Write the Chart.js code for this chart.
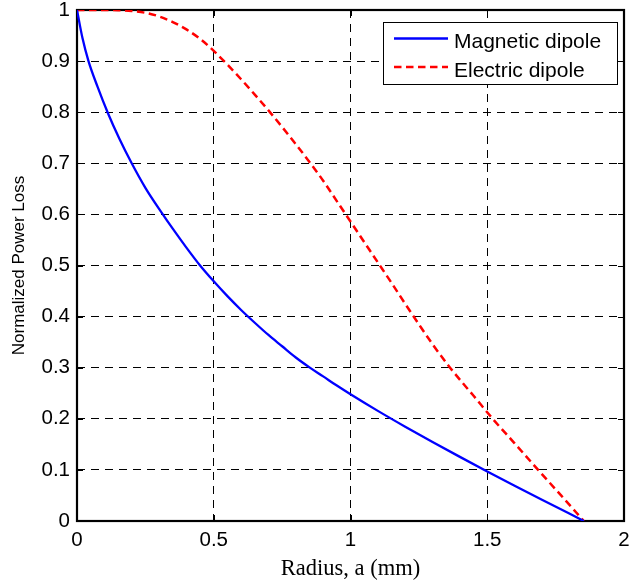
<!DOCTYPE html>
<html>
<head>
<meta charset="utf-8">
<script src="https://cdn.jsdelivr.net/npm/chart.js@4/dist/chart.umd.min.js"></script>
<style>
  html, body { margin: 0; padding: 0; background: #ffffff; }
  canvas { display: block; }
</style>
</head>
<body>
<canvas id="c" width="629" height="586"></canvas>
<script>
// ---- Data ----
const seriesNames = ['Magnetic dipole', 'Electric dipole'];

const magX = [0, 0.02, 0.042, 0.075, 0.114, 0.155, 0.2, 0.25, 0.31, 0.35, 0.4, 0.45, 0.5, 0.55, 0.6, 0.65, 0.7, 0.75, 0.8, 0.85, 0.9, 0.95, 1.0, 1.1, 1.2, 1.3, 1.4, 1.5, 1.6, 1.7, 1.8, 1.853];
const magY = [1, 0.945, 0.9, 0.85, 0.797, 0.748, 0.7, 0.652, 0.603, 0.572, 0.535, 0.5, 0.469, 0.44, 0.413, 0.388, 0.364, 0.342, 0.32, 0.3007, 0.283, 0.265, 0.248, 0.2155, 0.1845, 0.1545, 0.1255, 0.097, 0.069, 0.0415, 0.0145, 0];

const elecX = [0, 0.1, 0.15, 0.2, 0.25, 0.3, 0.35, 0.4, 0.45, 0.5, 0.55, 0.6, 0.65, 0.7, 0.75, 0.8, 0.85, 0.9, 0.95, 1.0, 1.05, 1.1, 1.15, 1.2, 1.25, 1.3, 1.364, 1.45, 1.52, 1.6, 1.686, 1.77, 1.853];
const elecY = [1, 1, 0.9995, 0.998, 0.9945, 0.9875, 0.9765, 0.962, 0.9435, 0.92, 0.893, 0.8645, 0.8345, 0.8035, 0.771, 0.7375, 0.7025, 0.666, 0.626, 0.586, 0.546, 0.506, 0.466, 0.425, 0.385, 0.346, 0.3, 0.245, 0.2, 0.152, 0.1, 0.05, 0];

const xTickLabels = ['0', '0.5', '1', '1.5', '2'];
const yTickLabels = ['0', '0.1', '0.2', '0.3', '0.4', '0.5', '0.6', '0.7', '0.8', '0.9', '1'];

const xTitle = 'Radius, a (mm)';
const yTitle = 'Normalized Power Loss';

// ---- helpers ----
const toPoints = (xs, ys) => xs.map((x, i) => ({ x: x, y: ys[i] }));
const SANS = '"Liberation Sans", Arial, Helvetica, sans-serif';
const SERIF = '"Liberation Serif", "Times New Roman", Times, serif';

const framePlugin = {
  id: 'frame',
  beforeDatasetsDraw(chart) {
    const { ctx, chartArea: a, scales: { x, y } } = chart;
    ctx.save();
    ctx.strokeStyle = '#000';
    ctx.lineWidth = 1;
    ctx.setLineDash([]);
    ctx.beginPath();
    const tl = 6;
    y.ticks.forEach(t => {
      const p = Math.round(y.getPixelForValue(t.value)) + 0.5;
      ctx.moveTo(a.left, p); ctx.lineTo(a.left + tl, p);
      ctx.moveTo(a.right, p); ctx.lineTo(a.right - tl, p);
    });
    x.ticks.forEach(t => {
      const p = Math.round(x.getPixelForValue(t.value)) + 0.5;
      ctx.moveTo(p, a.bottom); ctx.lineTo(p, a.bottom - tl);
      ctx.moveTo(p, a.top); ctx.lineTo(p, a.top + tl);
    });
    ctx.stroke();
    ctx.lineWidth = 2.2;
    ctx.strokeRect(a.left, a.top, a.right - a.left, a.bottom - a.top);
    ctx.restore();
  },
  afterDatasetsDraw(chart) {
    const { ctx } = chart;
    const box = { l: 383.5, t: 22.5, r: 617.5, b: 84.5 };
    ctx.save();
    ctx.fillStyle = '#fff';
    ctx.fillRect(box.l, box.t, box.r - box.l, box.b - box.t);
    ctx.strokeStyle = '#000';
    ctx.lineWidth = 1;
    ctx.setLineDash([]);
    ctx.strokeRect(box.l, box.t, box.r - box.l, box.b - box.t);
    const rowsLine = [38.5, 67];
    const rowsText = [48.3, 76.5];
    chart.data.datasets.forEach((ds, i) => {
      ctx.strokeStyle = ds.borderColor;
      ctx.lineWidth = ds.borderWidth;
      ctx.setLineDash(ds.borderDash || []);
      ctx.beginPath();
      ctx.moveTo(394, rowsLine[i]);
      ctx.lineTo(448, rowsLine[i]);
      ctx.stroke();
      ctx.setLineDash([]);
      ctx.fillStyle = '#000';
      ctx.font = '21px ' + SANS;
      ctx.textAlign = 'left';
      ctx.textBaseline = 'alphabetic';
      ctx.fillText(ds.label, 454, rowsText[i]);
    });
    ctx.restore();
  }
};

new Chart(document.getElementById('c'), {
  type: 'line',
  data: {
    datasets: [
      {
        label: seriesNames[0],
        data: toPoints(magX, magY),
        borderColor: '#0000ff',
        borderWidth: 2.3,
        pointRadius: 0,
        cubicInterpolationMode: 'monotone',
        fill: false
      },
      {
        label: seriesNames[1],
        data: toPoints(elecX, elecY),
        borderColor: '#ff0000',
        borderWidth: 2.5,
        borderDash: [7.5, 4.5],
        pointRadius: 0,
        cubicInterpolationMode: 'monotone',
        fill: false
      }
    ]
  },
  options: {
    responsive: false,
    devicePixelRatio: 1,
    animation: false,
    events: [],
    layout: { padding: { left: 0, right: 5, top: 10, bottom: 0 } },
    plugins: {
      legend: { display: false },
      tooltip: { enabled: false },
      title: { display: false }
    },
    scales: {
      x: {
        type: 'linear',
        min: 0,
        max: 2,
        afterFit(scale) {
          scale.height = 65;
          scale.paddingLeft = 0; scale.paddingRight = 0;
          scale.paddingTop = 0; scale.paddingBottom = 0;
        },
        ticks: {
          stepSize: 0.5,
          color: '#000',
          padding: 9,
          maxRotation: 0,
          autoSkip: false,
          font: { family: SANS, size: 20.5, lineHeight: 1 },
          callback: (v, i) => xTickLabels[i]
        },
        grid: {
          color: '#000',
          lineWidth: 1,
          drawTicks: false
        },
        border: { display: false, dash: [8, 6] },
        title: {
          display: true,
          text: xTitle,
          color: '#000',
          font: { family: SERIF, size: 22.5, lineHeight: 1.2 },
          padding: { top: 0, bottom: 3 }
        }
      },
      y: {
        type: 'linear',
        min: 0,
        max: 1,
        afterFit(scale) {
          scale.width = 77;
          scale.paddingLeft = 0; scale.paddingRight = 0;
          scale.paddingTop = 0; scale.paddingBottom = 0;
        },
        ticks: {
          stepSize: 0.1,
          color: '#000',
          padding: 7,
          autoSkip: false,
          font: { family: SANS, size: 20.5, lineHeight: 1 },
          callback: (v, i) => yTickLabels[i]
        },
        grid: {
          color: '#000',
          lineWidth: 1,
          drawTicks: false
        },
        border: { display: false, dash: [8, 6] },
        title: {
          display: true,
          text: yTitle,
          color: '#000',
          font: { family: SANS, size: 17, lineHeight: 1.2 },
          padding: { top: 9, bottom: 0 }
        }
      }
    }
  },
  plugins: [framePlugin]
});
</script>
</body>
</html>
